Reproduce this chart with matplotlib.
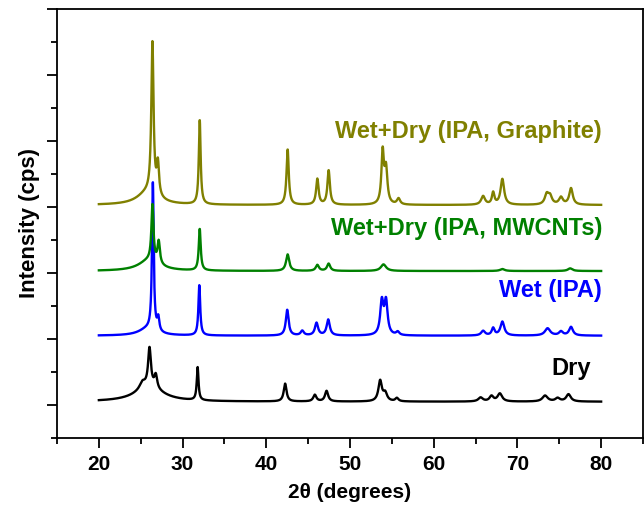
import numpy as np
import matplotlib
matplotlib.use("Agg")
import matplotlib.pyplot as plt

plt.rcParams['font.family'] = ['Liberation Sans', 'DejaVu Sans']
plt.rcParams['font.weight'] = 'bold'

# ---- data (2theta in degrees, intensity in kcps-like units) ----
labels = ["Dry", "Wet (IPA)", "Wet+Dry (IPA, MWCNTs)", "Wet+Dry (IPA, Graphite)"]
colors = ["#000000", "#0000FF", "#008000", "#808000"]
baselines = [1.05, 2.05, 3.03, 4.03]

dry_pos    = [26.0, 25.2, 26.05, 26.8, 31.8, 42.25, 45.8, 47.2, 53.6, 54.2, 55.6, 65.6, 66.9, 67.9, 73.3, 74.8, 76.1]
dry_height = [0.22, 0.10, 0.58, 0.20, 0.50, 0.27, 0.10, 0.16, 0.31, 0.12, 0.05, 0.06, 0.08, 0.12, 0.09, 0.05, 0.11]
dry_width  = [4.00, 0.80, 0.40, 0.40, 0.25, 0.40, 0.45, 0.45, 0.50, 0.55, 0.45, 0.65, 0.55, 0.65, 0.75, 0.65, 0.65]

wet_pos    = [25.8, 26.45, 27.1, 32.0, 42.5, 44.3, 46.0, 47.4, 53.8, 54.3, 55.7, 65.9, 67.1, 68.2, 73.6, 75.2, 76.4]
wet_height = [0.10, 2.25, 0.20, 0.76, 0.39, 0.07, 0.19, 0.24, 0.50, 0.50, 0.05, 0.07, 0.11, 0.21, 0.11, 0.06, 0.13]
wet_width  = [2.50, 0.24, 0.30, 0.26, 0.40, 0.45, 0.45, 0.45, 0.45, 0.45, 0.45, 0.55, 0.40, 0.55, 0.75, 0.55, 0.55]

cnt_pos    = [26.0, 26.4, 27.15, 32.05, 42.55, 46.1, 47.45, 54.0, 68.2, 76.3]
cnt_height = [0.16, 0.85, 0.34, 0.63, 0.25, 0.09, 0.11, 0.10, 0.03, 0.04]
cnt_width  = [3.00, 0.30, 0.34, 0.28, 0.45, 0.45, 0.45, 0.75, 0.65, 0.65]

gra_pos    = [25.8, 26.4, 27.05, 32.05, 42.55, 46.1, 47.45, 53.9, 54.3, 55.8, 65.9, 67.1, 68.2, 73.5, 73.9, 75.2, 76.4]
gra_height = [0.18, 2.30, 0.48, 1.28, 0.84, 0.39, 0.52, 0.78, 0.52, 0.09, 0.13, 0.18, 0.39, 0.15, 0.12, 0.11, 0.25]
gra_width  = [3.00, 0.32, 0.32, 0.26, 0.32, 0.35, 0.35, 0.35, 0.40, 0.45, 0.55, 0.35, 0.50, 0.55, 0.55, 0.55, 0.50]

label_x = [78.8, 80.1, 80.1, 80.1]
label_y = [1.56, 2.74, 3.68, 5.15]

series = [
    (dry_pos, dry_height, dry_width),
    (wet_pos, wet_height, wet_width),
    (cnt_pos, cnt_height, cnt_width),
    (gra_pos, gra_height, gra_width),
]

two_theta = np.arange(20.0, 80.0001, 0.02)


def profile(x, pos, height, width):
    y = np.zeros_like(x)
    for p, h, w in zip(pos, height, width):
        g = (w / 2.0) ** 2
        y += h * g / ((x - p) ** 2 + g)
    return y


fig = plt.figure(figsize=(6.44, 5.05), dpi=100)
ax = fig.add_axes([57 / 644, (505 - 438) / 505, (643 - 57) / 644, (438 - 9) / 505])

zorders = [1, 3, 4, 2]
for i, (pos, hgt, wid) in enumerate(series):
    y = baselines[i] + profile(two_theta, pos, hgt, wid)
    ax.plot(two_theta, y, color=colors[i], lw=1.7, zorder=zorders[i])
    ax.text(label_x[i], label_y[i], labels[i], color=colors[i], fontsize=17,
            fontweight='bold', ha='right', va='center')

ax.set_xlim(15, 85)
ax.set_ylim(0.5, 7.0)
ax.set_xticks([20, 30, 40, 50, 60, 70, 80])
ax.set_xticks(np.arange(15, 86, 5), minor=True)
ax.set_yticks(np.arange(1, 8, 1))
ax.set_yticks(np.arange(0.5, 7.0, 1), minor=True)
ax.set_yticklabels([])
ax.tick_params(axis='both', which='major', direction='out', length=7, width=1.3)
ax.tick_params(axis='both', which='minor', direction='out', length=4, width=1.3)
ax.tick_params(axis='x', labelsize=15, pad=5)
for lab in ax.get_xticklabels():
    lab.set_fontweight('bold')
for s in ax.spines.values():
    s.set_linewidth(1.3)

ax.set_xlabel("2θ (degrees)", fontsize=15, fontweight='bold', labelpad=7)
ax.set_ylabel("Intensity (cps)", fontsize=16, fontweight='bold', labelpad=2)

fig.savefig("out.png", dpi=100)
